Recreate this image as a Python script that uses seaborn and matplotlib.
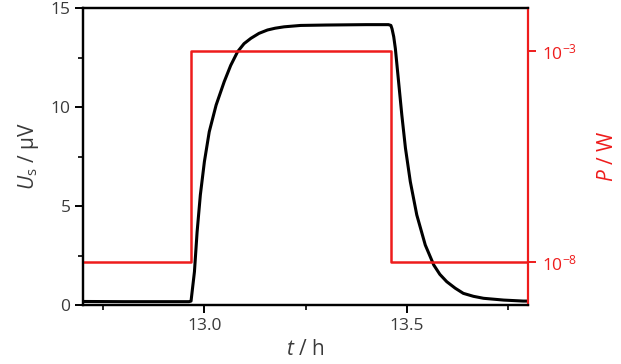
import numpy as np
import pandas as pd
import matplotlib
matplotlib.use("Agg")
import matplotlib.pyplot as plt
import seaborn as sns
from matplotlib.ticker import MultipleLocator, FixedLocator, FixedFormatter

# --- data ---
t_signal = [12.70, 12.80, 12.90, 12.962, 12.967, 12.9754, 12.982, 12.990, 13.000, 13.012,
            13.029, 13.049, 13.065, 13.082, 13.098, 13.115, 13.135, 13.156, 13.175, 13.197,
            13.238, 13.300, 13.400, 13.455, 13.461, 13.4638, 13.468, 13.472, 13.480, 13.488,
            13.497, 13.509, 13.525, 13.546, 13.567, 13.582, 13.599, 13.620, 13.640, 13.665,
            13.690, 13.740, 13.788, 13.800]
u_signal = [0.18, 0.17, 0.17, 0.17, 0.20, 1.68, 3.70, 5.56, 7.24, 8.75,
            10.10, 11.28, 12.10, 12.79, 13.20, 13.47, 13.72, 13.89, 13.98, 14.05,
            14.12, 14.14, 14.16, 14.16, 14.12, 13.95, 13.55, 12.96, 11.28, 9.60,
            7.92, 6.23, 4.55, 3.03, 2.02, 1.55, 1.18, 0.85, 0.59, 0.44,
            0.34, 0.25, 0.20, 0.20]

t_power = [12.70, 12.967, 13.462, 13.80]
p_power = [1e-8, 1e-3, 1e-8, 1e-8]

x_ticks = [13.0, 13.5]
y_ticks = [0, 5, 10, 15]
p_ticks = [1e-8, 1e-3]
p_tick_labels = [r"10$^{\mathregular{-8}}$", r"10$^{\mathregular{-3}}$"]

sns.set_style("ticks")
plt.rcParams["font.family"] = ["Open Sans", "DejaVu Sans"]
plt.rcParams["mathtext.fontset"] = "custom"
plt.rcParams["mathtext.rm"] = "Open Sans"
plt.rcParams["mathtext.it"] = "Open Sans:italic"

RED = "#ee1c1c"
GRAY = "#3a3a3a"

fig = plt.figure(figsize=(6.21, 3.64), dpi=100)
ax = fig.add_axes([0.1337, 0.162, 0.7166, 0.816])
ax2 = ax.twinx()

df_s = pd.DataFrame({"t": t_signal, "U": u_signal})
df_p = pd.DataFrame({"t": t_power, "P": p_power})

sns.lineplot(data=df_s, x="t", y="U", ax=ax, color="black", lw=2.2, sort=False,
             solid_joinstyle="round")
sns.lineplot(data=df_p, x="t", y="P", ax=ax2, color=RED, lw=1.8, drawstyle="steps-post", sort=False)

ax.set_xlim(12.70, 13.80)
ax.set_ylim(0, 15)
ax2.set_yscale("log")
ax2.set_ylim(10**-9.02, 10**-1.98)

ax.set_xticks(x_ticks)
ax.set_xticklabels(["13.0", "13.5"])
ax.xaxis.set_minor_locator(MultipleLocator(0.25))
ax.set_yticks(y_ticks)
ax.yaxis.set_minor_locator(MultipleLocator(2.5))

ax2.yaxis.set_major_locator(FixedLocator(p_ticks))
ax2.yaxis.set_major_formatter(FixedFormatter(p_tick_labels))
ax2.yaxis.set_minor_locator(FixedLocator([]))

for a in (ax, ax2):
    for s in a.spines.values():
        s.set_linewidth(1.6)
        s.set_color("black")
ax2.spines["right"].set_color(RED)
ax.spines["right"].set_visible(False)

ax.tick_params(axis="both", which="major", direction="out", length=6, width=1.4,
               labelsize=12.5, labelcolor=GRAY, color="black", pad=3)
ax.tick_params(axis="both", which="minor", direction="out", length=3.5, width=1.2, color="black")
ax2.tick_params(axis="y", which="major", direction="out", length=6, width=1.4,
                labelsize=12.5, labelcolor=RED, color=RED, pad=4)

ax.set_xlabel(r"$\mathit{t}$ / h", fontsize=15, color=GRAY, labelpad=4)
ax.set_ylabel(r"$\mathit{U}_{\mathregular{s}}$ / µV", fontsize=15, color=GRAY, labelpad=7)
ax2.set_ylabel(r"$\mathit{P}$ / W", fontsize=15, color=RED, labelpad=14)

fig.savefig("out.png", dpi=100)
